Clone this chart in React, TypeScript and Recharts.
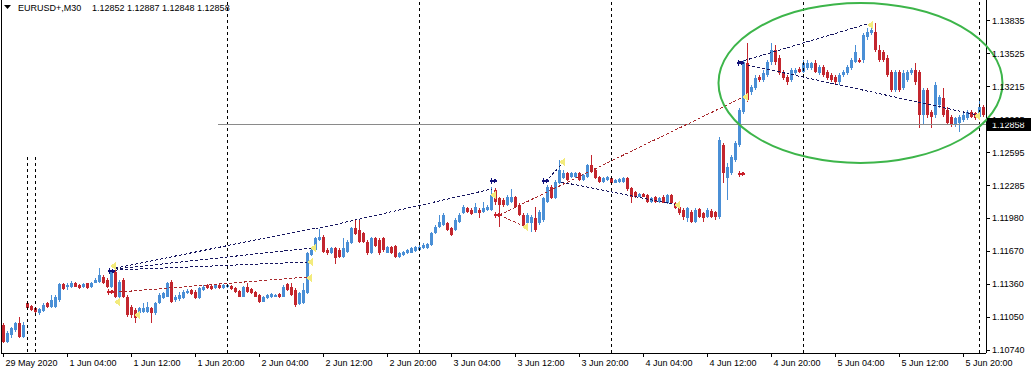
import {
  ComposedChart,
  Bar,
  Scatter,
  XAxis,
  YAxis,
  ReferenceLine,
  ReferenceDot,
} from 'recharts';

// EURUSD+ M30 candles, [open, high, low, close]
const may29 = [
  [1.10975, 1.10996, 1.10802, 1.10818], [1.10818, 1.10921, 1.10802, 1.10902], [1.1088, 1.10959, 1.10849, 1.10943],
  [1.10927, 1.11006, 1.10912, 1.1099], [1.10996, 1.11053, 1.10849, 1.10865], [1.10865, 1.11006, 1.10849, 1.10975],
  [1.11178, 1.11194, 1.11122, 1.11138], [1.11153, 1.11166, 1.11109, 1.11116],
];
const jun1 = [
  [1.11131, 1.11147, 1.11084, 1.111], [1.11084, 1.11138, 1.11069, 1.11125], [1.11109, 1.11178, 1.111, 1.11163],
  [1.11178, 1.11188, 1.11131, 1.11141], [1.11147, 1.11257, 1.11138, 1.1121], [1.11147, 1.11257, 1.11131, 1.11241],
  [1.1121, 1.11367, 1.11194, 1.1136], [1.1136, 1.11373, 1.11304, 1.1131], [1.11329, 1.11367, 1.11304, 1.11351],
  [1.11335, 1.11385, 1.11326, 1.11373], [1.11373, 1.11382, 1.11329, 1.11335], [1.11351, 1.1136, 1.11313, 1.1132],
  [1.11329, 1.11367, 1.1132, 1.1136], [1.11367, 1.11373, 1.11313, 1.1132], [1.11329, 1.11382, 1.1132, 1.11373],
  [1.11373, 1.11414, 1.11367, 1.11398], [1.11382, 1.11508, 1.11373, 1.11445], [1.11429, 1.11445, 1.1136, 1.11367],
  [1.11398, 1.11414, 1.1132, 1.11335], [1.11335, 1.11492, 1.1132, 1.11476], [1.11476, 1.11492, 1.11225, 1.11241],
  [1.11241, 1.114, 1.1123, 1.1138], [1.11398, 1.11414, 1.11225, 1.11241], [1.11241, 1.11257, 1.11053, 1.11069],
  [1.11147, 1.11163, 1.11037, 1.11069], [1.11116, 1.11131, 1.1099, 1.11037], [1.11084, 1.11147, 1.11069, 1.11131],
  [1.111, 1.11178, 1.11084, 1.11131], [1.111, 1.11194, 1.11091, 1.11147], [1.11131, 1.11147, 1.10996, 1.11084],
  [1.11084, 1.11194, 1.11069, 1.11178], [1.11178, 1.11273, 1.11172, 1.11257], [1.11225, 1.11288, 1.11216, 1.11273],
  [1.11241, 1.11382, 1.11235, 1.11367], [1.11382, 1.11398, 1.11185, 1.11194], [1.1121, 1.11257, 1.11194, 1.11241],
  [1.11216, 1.11288, 1.11204, 1.11257], [1.11225, 1.11304, 1.11216, 1.11288], [1.11273, 1.1131, 1.11266, 1.11298],
  [1.11304, 1.11313, 1.11257, 1.11266], [1.11288, 1.11304, 1.11216, 1.11225], [1.11225, 1.11329, 1.11216, 1.1132],
  [1.11304, 1.11351, 1.11298, 1.11335], [1.11351, 1.1136, 1.1131, 1.1132], [1.11342, 1.11351, 1.11304, 1.1131],
  [1.1132, 1.1136, 1.1131, 1.11351], [1.11351, 1.1136, 1.1131, 1.1132], [1.1132, 1.1136, 1.1131, 1.11351],
];
const jun2 = [
  [1.11329, 1.1136, 1.1132, 1.11351], [1.11345, 1.11354, 1.11304, 1.1131], [1.1132, 1.11329, 1.11279, 1.11288],
  [1.11298, 1.11304, 1.11235, 1.11241], [1.11241, 1.11345, 1.11235, 1.11335], [1.11335, 1.11373, 1.11279, 1.11288],
  [1.1131, 1.1132, 1.11266, 1.11273], [1.11288, 1.11298, 1.11235, 1.11241], [1.11257, 1.11266, 1.11178, 1.11194],
  [1.11194, 1.11247, 1.11188, 1.11241], [1.11225, 1.11266, 1.11216, 1.11257], [1.11235, 1.11273, 1.11225, 1.11266],
  [1.11241, 1.11266, 1.11235, 1.11257], [1.11266, 1.11273, 1.11225, 1.11235], [1.11241, 1.11351, 1.11235, 1.11335],
  [1.1136, 1.11373, 1.11298, 1.11304], [1.11335, 1.11373, 1.11247, 1.11257], [1.11304, 1.1132, 1.11141, 1.11163],
  [1.11172, 1.11288, 1.11163, 1.11273], [1.11178, 1.11367, 1.11172, 1.11304], [1.11273, 1.11665, 1.11266, 1.11649],
  [1.11633, 1.11696, 1.11624, 1.1168], [1.1168, 1.11806, 1.11674, 1.1179], [1.11774, 1.11875, 1.11768, 1.11799],
  [1.11806, 1.11821, 1.11655, 1.11665], [1.1168, 1.11696, 1.11633, 1.11649], [1.11649, 1.11711, 1.11642, 1.11696],
  [1.11696, 1.11705, 1.11548, 1.11602], [1.1168, 1.11696, 1.11602, 1.11611], [1.11617, 1.1179, 1.11602, 1.11696],
  [1.11665, 1.11774, 1.11655, 1.11759], [1.11743, 1.119, 1.11737, 1.11884], [1.11884, 1.11969, 1.11818, 1.11828],
  [1.11868, 1.11962, 1.11749, 1.11759], [1.11837, 1.11853, 1.11749, 1.11759], [1.11759, 1.11774, 1.11633, 1.11649],
  [1.11649, 1.11806, 1.11642, 1.1179], [1.1179, 1.11806, 1.11711, 1.11718], [1.11774, 1.1179, 1.11633, 1.11649],
  [1.1179, 1.11806, 1.11665, 1.1168], [1.11655, 1.11718, 1.11649, 1.11705], [1.11711, 1.11718, 1.11642, 1.11649],
  [1.11718, 1.11727, 1.11602, 1.11611], [1.11617, 1.11665, 1.11602, 1.11655], [1.11633, 1.11674, 1.11624, 1.11665],
  [1.11649, 1.1169, 1.11642, 1.1168], [1.11655, 1.11711, 1.11649, 1.11696], [1.11674, 1.11718, 1.11665, 1.11705],
];
const jun3 = [
  [1.1168, 1.11724, 1.11671, 1.11711], [1.11696, 1.11743, 1.11686, 1.11727], [1.11696, 1.11749, 1.11686, 1.11737],
  [1.11727, 1.11853, 1.11718, 1.11837], [1.11837, 1.11915, 1.11828, 1.11893], [1.11893, 1.12009, 1.11884, 1.11947],
  [1.11915, 1.12025, 1.11906, 1.12009], [1.11931, 1.11947, 1.11862, 1.11868], [1.11884, 1.119, 1.11812, 1.11821],
  [1.11868, 1.11978, 1.11862, 1.11962], [1.11947, 1.12025, 1.11937, 1.12009], [1.12025, 1.12104, 1.12019, 1.12088],
  [1.12072, 1.12088, 1.12031, 1.12041], [1.12057, 1.12072, 1.12009, 1.12019], [1.12031, 1.12119, 1.12025, 1.12088],
  [1.12057, 1.12072, 1.11978, 1.12031], [1.12041, 1.12135, 1.12031, 1.12072], [1.12057, 1.12104, 1.12047, 1.12088],
  [1.12057, 1.12276, 1.12047, 1.12198], [1.12245, 1.1226, 1.12104, 1.12135], [1.12166, 1.12182, 1.119, 1.12104],
  [1.12151, 1.12166, 1.12088, 1.12104], [1.12104, 1.12198, 1.12094, 1.12182], [1.12135, 1.12251, 1.12125, 1.12182],
  [1.12176, 1.12188, 1.12078, 1.12088], [1.12104, 1.12119, 1.12, 1.12009], [1.12009, 1.12025, 1.11893, 1.11915],
  [1.11931, 1.12025, 1.11915, 1.12009], [1.11937, 1.12009, 1.11853, 1.11994], [1.11978, 1.12088, 1.11853, 1.11868],
  [1.11931, 1.12057, 1.11915, 1.12041], [1.11962, 1.12182, 1.11947, 1.12166], [1.12135, 1.12292, 1.12125, 1.12276],
  [1.12276, 1.12292, 1.12157, 1.12166], [1.12166, 1.12339, 1.12157, 1.12323], [1.12307, 1.12527, 1.12298, 1.12433],
  [1.12354, 1.12433, 1.12345, 1.12401], [1.12401, 1.12417, 1.12329, 1.12339], [1.1237, 1.12411, 1.12361, 1.12401],
  [1.1237, 1.12411, 1.12361, 1.12401], [1.12401, 1.12411, 1.12329, 1.12339], [1.12339, 1.12395, 1.12329, 1.12386],
  [1.1237, 1.12489, 1.12361, 1.1248], [1.1248, 1.12574, 1.12408, 1.12417], [1.12433, 1.12442, 1.12345, 1.12354],
  [1.1237, 1.12379, 1.12314, 1.12323], [1.12323, 1.12364, 1.12314, 1.12354], [1.12339, 1.12379, 1.12329, 1.1237],
];
const jun4 = [
  [1.12354, 1.12364, 1.12298, 1.12307], [1.12314, 1.12345, 1.12307, 1.12339], [1.12323, 1.12354, 1.12314, 1.12345],
  [1.12323, 1.12364, 1.12314, 1.12354], [1.12354, 1.12364, 1.12238, 1.12251], [1.12261, 1.12277, 1.1212, 1.12183],
  [1.1223, 1.12239, 1.12173, 1.12183], [1.12183, 1.1222, 1.12176, 1.12208], [1.12208, 1.1222, 1.12176, 1.12183],
  [1.12198, 1.12208, 1.12126, 1.12136], [1.12136, 1.12176, 1.12126, 1.12167], [1.12176, 1.12189, 1.12126, 1.12136],
  [1.12136, 1.12183, 1.12126, 1.12167], [1.12183, 1.12198, 1.1212, 1.12126], [1.1212, 1.12208, 1.12114, 1.12198],
  [1.12198, 1.12208, 1.12114, 1.1212], [1.1212, 1.12129, 1.12063, 1.12073], [1.12089, 1.12098, 1.1201, 1.12026],
  [1.12057, 1.12073, 1.11963, 1.11995], [1.11979, 1.12089, 1.11948, 1.12073], [1.12042, 1.12057, 1.11938, 1.11948],
  [1.11948, 1.12073, 1.11938, 1.12057], [1.12063, 1.12073, 1.11979, 1.11995], [1.12026, 1.12042, 1.11948, 1.11979],
  [1.11995, 1.12073, 1.11985, 1.12057], [1.12051, 1.12063, 1.11985, 1.11995], [1.12042, 1.12051, 1.11963, 1.11995],
  [1.11991, 1.12744, 1.11972, 1.12715], [1.12668, 1.12687, 1.12311, 1.12405], [1.12358, 1.12499, 1.12151, 1.12461],
  [1.12405, 1.12574, 1.12386, 1.12555], [1.12527, 1.12706, 1.12508, 1.12687], [1.12668, 1.13016, 1.1265, 1.12998],
  [1.12979, 1.13468, 1.1296, 1.13449], [1.1344, 1.13628, 1.13073, 1.13092], [1.13167, 1.13233, 1.13139, 1.13214],
  [1.13204, 1.13327, 1.13186, 1.13299], [1.13308, 1.13327, 1.13261, 1.1328], [1.1328, 1.13374, 1.13261, 1.13346],
  [1.13327, 1.13468, 1.13308, 1.13449], [1.13449, 1.13628, 1.13421, 1.13562], [1.13562, 1.13609, 1.13421, 1.13449],
  [1.13487, 1.13515, 1.13327, 1.13346], [1.13346, 1.13374, 1.1328, 1.13299], [1.13308, 1.13327, 1.13233, 1.13261],
  [1.1328, 1.13393, 1.13261, 1.13374], [1.13346, 1.13393, 1.13327, 1.13374], [1.13383, 1.13402, 1.13346, 1.13355],
];
const jun5 = [
  [1.13355, 1.13468, 1.13346, 1.1344], [1.13393, 1.13468, 1.13374, 1.1344], [1.13393, 1.13449, 1.13374, 1.1344],
  [1.1344, 1.13468, 1.13346, 1.13355], [1.13346, 1.13421, 1.13327, 1.13402], [1.13402, 1.13421, 1.13308, 1.13327],
  [1.13355, 1.13374, 1.1328, 1.13299], [1.13327, 1.13346, 1.13261, 1.1328], [1.13308, 1.13327, 1.13233, 1.13261],
  [1.13261, 1.13346, 1.13233, 1.13327], [1.13327, 1.13374, 1.13308, 1.13355], [1.13346, 1.13421, 1.13327, 1.13402],
  [1.13393, 1.13487, 1.13374, 1.13468], [1.13449, 1.13609, 1.1344, 1.13543], [1.13468, 1.13487, 1.1344, 1.13449],
  [1.13468, 1.13722, 1.1344, 1.13703], [1.13684, 1.13769, 1.13656, 1.13731], [1.13722, 1.13825, 1.13703, 1.1375],
  [1.13731, 1.13816, 1.13543, 1.13562], [1.13562, 1.13609, 1.13449, 1.13468], [1.13543, 1.13562, 1.13449, 1.13468],
  [1.13487, 1.13515, 1.13308, 1.13327], [1.13355, 1.13374, 1.13167, 1.13186], [1.13186, 1.13374, 1.13167, 1.13355],
  [1.13355, 1.13374, 1.13167, 1.13186], [1.13204, 1.13374, 1.13186, 1.13346], [1.1328, 1.13374, 1.13261, 1.13355],
  [1.13346, 1.13393, 1.13327, 1.13374], [1.13374, 1.1344, 1.13233, 1.13261], [1.13355, 1.13374, 1.12828, 1.1295],
  [1.1295, 1.13204, 1.12857, 1.13186], [1.13186, 1.13204, 1.12922, 1.1295], [1.12979, 1.12998, 1.12828, 1.12932],
  [1.1295, 1.13261, 1.12922, 1.13233], [1.13045, 1.13139, 1.13016, 1.1312], [1.1311, 1.13204, 1.12932, 1.1295],
  [1.12998, 1.13026, 1.12857, 1.12875], [1.12932, 1.1295, 1.12838, 1.12857], [1.12857, 1.12932, 1.12838, 1.12922],
  [1.12875, 1.1295, 1.12791, 1.12932], [1.12904, 1.12969, 1.12885, 1.1295], [1.12922, 1.12998, 1.12904, 1.12979],
  [1.12979, 1.12998, 1.12922, 1.12932], [1.12969, 1.12979, 1.12904, 1.12922], [1.12932, 1.13092, 1.12922, 1.13026],
  [1.13026, 1.13045, 1.12932, 1.1295],
];

const timeTicks = [0, 16, 32, 48, 64, 80, 96, 112, 128, 144, 160, 176, 192, 208, 224, 240];
const timeLabels = [
  '29 May 2020', '1 Jun 04:00', '1 Jun 12:00', '1 Jun 20:00', '2 Jun 04:00', '2 Jun 12:00', '2 Jun 20:00',
  '3 Jun 04:00', '3 Jun 12:00', '3 Jun 20:00', '4 Jun 04:00', '4 Jun 12:00', '4 Jun 20:00', '5 Jun 04:00',
  '5 Jun 12:00', '5 Jun 20:00',
];
const priceTicks = [1.1074, 1.1105, 1.1136, 1.1167, 1.1198, 1.12285, 1.12595, 1.12905, 1.13215, 1.13525, 1.13835];
const daySeparators = [56, 104, 152, 200, 244];
const weekendSeparators = [6, 8];

const lastPrice = 1.12858;

// trend lines: [fromIndex, fromPrice, toIndex, toPrice]
const navyLines = [
  [28, 1.11511, 78, 1.11888],
  [28, 1.11502, 77, 1.117],
  [28, 1.11492, 76, 1.11568],
  [78, 1.11878, 122, 1.12254],
  [135.5, 1.1232, 140, 1.12508],
  [139.5, 1.1232, 168.5, 1.12104],
  [184, 1.13449, 216.75, 1.13816],
  [186, 1.13421, 243.5, 1.1295],
];
const redLines = [
  [29, 1.11286, 76, 1.11427],
  [124, 1.1201, 185, 1.1312],
  [124, 1.1201, 131, 1.11888],
];

const yellowMarks = [
  { i: 27.5, p: 1.1153 }, { i: 28.5, p: 1.11192 }, { i: 33.5, p: 1.11069 }, { i: 77.5, p: 1.117 },
  { i: 76.75, p: 1.11568 }, { i: 76.5, p: 1.11417 }, { i: 122.5, p: 1.12198 }, { i: 130.5, p: 1.11897 },
  { i: 139.75, p: 1.12508 }, { i: 168.5, p: 1.12104 }, { i: 185.5, p: 1.1312 }, { i: 216.75, p: 1.13797 },
  { i: 243.5, p: 1.12941 },
];
const navyArrows = [
  { i: 27, p: 1.11483 }, { i: 122.5, p: 1.1233 }, { i: 135.5, p: 1.1233 }, { i: 184.25, p: 1.1344 },
];
const redArrows = [
  { i: 26.75, p: 1.11286 }, { i: 123.5, p: 1.1201 }, { i: 184.5, p: 1.12396 },
];

const BULL = '#4a8fd6';
const BEAR = '#c3262e';
const FONT = '"Liberation Sans", Arial, sans-serif';

const candles = [may29, jun1, jun2, jun3, jun4, jun5].flat().map(([o, h, l, c], i) => ({
  i, o, h, l, c, range: [l, h],
}));

const Candle = (props: any) => {
  const { x, y, width, height, payload } = props;
  const { o, h, l, c } = payload;
  const top = Math.min(y, y + height);
  const span = Math.abs(height);
  const k = h === l ? 0 : span / (h - l);
  const cx = x + width / 2;
  const py = (v: number) => top + (h - v) * k;
  const bTop = Math.round(py(Math.max(o, c)));
  const bBot = Math.round(py(Math.min(o, c)));
  const color = c >= o ? BULL : BEAR;
  return (
    <g>
      <line x1={cx} x2={cx} y1={Math.round(top)} y2={Math.round(top + span)} stroke={color} strokeWidth={1} />
      <rect x={cx - 1.5} y={bTop} width={3} height={Math.max(1, bBot - bTop)} fill={color} />
    </g>
  );
};

const TimeTick = ({ x, y, payload }: any) => {
  const idx = timeTicks.indexOf(payload.value);
  return (
    <text x={x + 2} y={y + 7} textAnchor="start" fontSize={9} fontFamily={FONT} fill="#000">
      {timeLabels[idx]}
    </text>
  );
};

const YellowMark = ({ cx, cy }: any) => (
  <polygon points={`${cx - 3},${cy} ${cx + 2},${cy - 4} ${cx + 3},${cy} ${cx + 2},${cy + 4}`} fill="#f3eb7c" />
);

const arrowPoints = (cx: number, cy: number) =>
  `${cx - 4},${cy - 1} ${cx},${cy - 1} ${cx},${cy - 3} ${cx + 4},${cy} ${cx},${cy + 3} ${cx},${cy + 1} ${cx - 4},${cy + 1}`;

const NavyArrow = ({ cx, cy }: any) => (
  <g>
    <polygon points={arrowPoints(cx, cy)} fill="#10107a" />
    <line x1={cx - 2} x2={cx - 2} y1={cy - 3} y2={cy + 3} stroke="#10107a" />
  </g>
);

const RedArrow = ({ cx, cy }: any) => (
  <g>
    <polygon points={arrowPoints(cx, cy)} fill="#c8202a" />
    <line x1={cx - 2} x2={cx - 2} y1={cy - 3} y2={cy + 3} stroke="#c8202a" />
  </g>
);

const PriceTag = ({ cx, cy }: any) => (
  <g>
    <rect x={cx + 1} y={cy - 6.5} width={44} height={13} fill="#000" />
    <text x={cx + 6} y={cy + 3.5} fontSize={9} fontFamily={FONT} fill="#fff">
      {lastPrice.toFixed(5)}
    </text>
  </g>
);

const GreenEllipse = ({ cx, cy }: any) => (
  <ellipse cx={cx} cy={cy} rx={142} ry={80} fill="none" stroke="#3db54a" strokeWidth={2} shapeRendering="geometricPrecision" />
);

const EurUsdChart = () => (
  <ComposedChart
    width={1032}
    height={374}
    data={candles}
    margin={{ top: 0, right: 0, bottom: 0, left: 1 }}
    style={{ shapeRendering: 'crispEdges' }}
  >
    <XAxis
      dataKey="i"
      type="number"
      domain={[-0.625, 245.625]}
      allowDataOverflow
      ticks={timeTicks}
      interval={0}
      tick={<TimeTick />}
      tickSize={4}
      height={21}
      axisLine={{ stroke: '#000' }}
      tickLine={{ stroke: '#000' }}
    />
    <YAxis
      orientation="right"
      type="number"
      domain={[1.10712, 1.14032]}
      allowDataOverflow
      ticks={priceTicks}
      interval={0}
      width={46}
      tickSize={4}
      tickMargin={2}
      tickFormatter={(v: number) => v.toFixed(5)}
      tick={{ fontSize: 9, fill: '#000', fontFamily: FONT }}
      axisLine={{ stroke: '#000' }}
      tickLine={{ stroke: '#000' }}
    />
    <ReferenceLine x={-0.625} stroke="#000" />
    {daySeparators.map((d) => (
      <ReferenceLine key={`sep-${d}`} x={d} stroke="#000" strokeDasharray="3 3" />
    ))}
    {weekendSeparators.map((d) => (
      <ReferenceLine
        key={`wsep-${d}`}
        segment={[{ x: d, y: 1.12555 }, { x: d, y: 1.10712 }]}
        stroke="#000"
        strokeDasharray="3 3"
      />
    ))}
    <ReferenceLine
      segment={[{ x: 53.5, y: lastPrice }, { x: 245.625, y: lastPrice }]}
      stroke="#8a8a8a"
    />
    <Bar dataKey="range" barSize={3} shape={<Candle />} isAnimationActive={false} />
    {navyLines.map(([a, b, c, d], k) => (
      <ReferenceLine
        key={`nl-${k}`}
        segment={[{ x: a, y: b }, { x: c, y: d }]}
        stroke="#15155e"
        strokeDasharray="3 2"
      />
    ))}
    {redLines.map(([a, b, c, d], k) => (
      <ReferenceLine
        key={`rl-${k}`}
        segment={[{ x: a, y: b }, { x: c, y: d }]}
        stroke="#a8282c"
        strokeDasharray="3 2"
      />
    ))}
    <Scatter data={yellowMarks} dataKey="p" shape={<YellowMark />} isAnimationActive={false} />
    <Scatter data={navyArrows} dataKey="p" shape={<NavyArrow />} isAnimationActive={false} />
    <Scatter data={redArrows} dataKey="p" shape={<RedArrow />} isAnimationActive={false} />
    <ReferenceDot x={214.25} y={1.13252} r={0} ifOverflow="visible" shape={<GreenEllipse />} />
    <ReferenceDot x={245.625} y={lastPrice} r={0} ifOverflow="visible" shape={<PriceTag />} />
  </ComposedChart>
);

const App = () => (
  <div style={{ position: 'absolute', left: 0, top: 0, width: 1032, height: 374, background: '#fff', fontFamily: FONT }}>
    <EurUsdChart />
    <div style={{ position: 'absolute', left: 0, top: 0, width: 260, height: 16, pointerEvents: 'none' }}>
      <svg width={10} height={10} style={{ position: 'absolute', left: 4, top: 5 }}>
        <polygon points="0,0 7,0 3.5,4" fill="#000" />
      </svg>
      <span style={{ position: 'absolute', left: 18, top: 3, fontSize: 9, lineHeight: '11px', whiteSpace: 'nowrap' }}>
        EURUSD+,M30
      </span>
      <span style={{ position: 'absolute', left: 92, top: 3, fontSize: 9, lineHeight: '11px', whiteSpace: 'nowrap' }}>
        1.12852 1.12887 1.12848 1.12858
      </span>
    </div>
  </div>
);

export default App;
